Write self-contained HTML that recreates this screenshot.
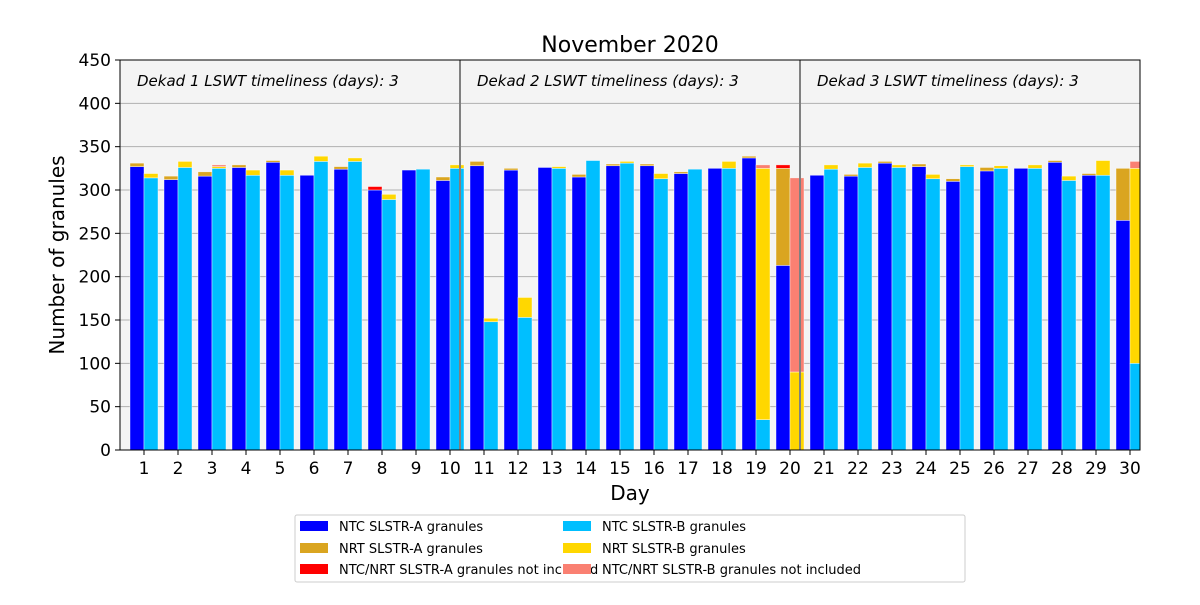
<!DOCTYPE html>
<html><head><meta charset="utf-8"><style>
html,body{margin:0;padding:0;background:#fff;}
svg text{font-family:"DejaVu Sans","Liberation Sans",sans-serif;}
</style></head><body>
<svg id="chart" width="1200" height="600" xmlns="http://www.w3.org/2000/svg">
<rect x="0" y="0" width="1200" height="600" fill="#fff"/>
<rect x="120" y="60" width="1020" height="390" fill="#f4f4f4"/>
<g id="grid"></g>
<g id="bars"></g>
<g id="dekads"></g>
<rect x="120" y="60" width="1020" height="390" fill="none" stroke="#000" stroke-width="1"/>
<g id="axes"></g>
<text x="630" y="52" font-size="22" text-anchor="middle">November 2020</text>
<text x="630" y="500" font-size="20" text-anchor="middle">Day</text>
<text x="0" y="0" font-size="20" text-anchor="middle" transform="translate(64,255) rotate(-90)">Number of granules</text>
<g>
<rect x="295" y="515" width="670" height="67" fill="#fff" stroke="#ccc" rx="2"/>
<rect x="300" y="521" width="28" height="10" fill="#0000ff"/>
<text x="339" y="531" font-size="13">NTC SLSTR-A granules</text>
<rect x="300" y="543" width="28" height="10" fill="#daa520"/>
<text x="339" y="553" font-size="13">NRT SLSTR-A granules</text>
<rect x="300" y="564" width="28" height="10" fill="#ff0000"/>
<text x="339" y="574" font-size="13">NTC/NRT SLSTR-A granules not included</text>
<rect x="563" y="521" width="28" height="10" fill="#00bfff"/>
<text x="602" y="531" font-size="13">NTC SLSTR-B granules</text>
<rect x="563" y="543" width="28" height="10" fill="#ffd700"/>
<text x="602" y="553" font-size="13">NRT SLSTR-B granules</text>
<rect x="563" y="564" width="28" height="10" fill="#fa8072"/>
<text x="602" y="574" font-size="13">NTC/NRT SLSTR-B granules not included</text>
</g>
</svg>
<script>
const days = [1,2,3,4,5,6,7,8,9,10,11,12,13,14,15,16,17,18,19,20,21,22,23,24,25,26,27,28,29,30];
const ntcA = [327,312,316,326,332,317,324,300,323,311,328,323,326,315,328,328,319,325,337,213,317,316,331,327,310,322,325,332,317,265];
const nrtA = [4,4,5,3,2,0,3,0,0,4,5,2,0,3,2,2,2,0,2,112,0,2,2,3,3,4,0,2,2,60];
const niA  = [0,0,0,0,0,0,0,4,0,0,0,0,0,0,0,0,0,0,0,4,0,0,0,0,0,0,0,0,0,0];
const ntcB = [314,326,325,317,317,333,333,289,324,325,148,153,325,334,331,313,324,325,35,0,324,326,326,313,327,325,325,311,317,100];
const nrtB = [5,7,2,6,6,6,4,6,0,4,4,23,2,0,2,6,0,8,290,90,5,5,3,5,2,3,4,5,17,225];
const niB  = [0,0,2,0,0,0,0,0,0,0,0,0,0,0,0,0,0,0,4,224,0,0,0,0,0,0,0,0,0,8];
const yTicks = [0,50,100,150,200,250,300,350,400,450];
const dekadLabels = ["Dekad 1 LSWT timeliness (days): 3","Dekad 2 LSWT timeliness (days): 3","Dekad 3 LSWT timeliness (days): 3"];
const dekadBounds = [10.5,20.5];

const NS="http://www.w3.org/2000/svg";
const X0=120,X1=1140,Y0=450,Y1=60;
function xs(d){return 144+34*(d-1);}
function ys(v){return Y0-(v/450)*(Y0-Y1);}
function mk(tag,attrs,parent){const e=document.createElementNS(NS,tag);for(const k in attrs)e.setAttribute(k,attrs[k]);parent.appendChild(e);return e;}
const grid=document.getElementById('grid'),bars=document.getElementById('bars'),axes=document.getElementById('axes'),dek=document.getElementById('dekads');
yTicks.forEach(t=>{
  const l=mk('line',{x1:X0,x2:X1,y1:ys(t),y2:ys(t),stroke:'#b0b0b0','stroke-width':1},grid);
  
  
  mk('line',{x1:X0-5,x2:X0,y1:ys(t),y2:ys(t),stroke:'#000'},axes);
  const tx=mk('text',{x:X0-9,y:ys(t)+6,'font-size':17,'text-anchor':'end'},axes);
  tx.textContent=t;
  
  
});
function seg(x,bottom,val,color,name){
  if(val<=0)return;
  const r=mk('rect',{x:x,y:ys(bottom+val),width:14,height:ys(bottom)-ys(bottom+val),fill:color,stroke:'#fff','stroke-width':0.6,'stroke-opacity':0.7},bars);
  
  
}
days.forEach((d,i)=>{
  const xc=xs(d);
  seg(xc-14,0,ntcA[i],'#0000ff','bar-ntc-a');
  seg(xc-14,ntcA[i],nrtA[i],'#daa520','bar-nrt-a');
  seg(xc-14,ntcA[i]+nrtA[i],niA[i],'#ff0000','bar-ni-a');
  seg(xc,0,ntcB[i],'#00bfff','bar-ntc-b');
  seg(xc,ntcB[i],nrtB[i],'#ffd700','bar-nrt-b');
  seg(xc,ntcB[i]+nrtB[i],niB[i],'#fa8072','bar-ni-b');
  mk('line',{x1:xc,x2:xc,y1:Y0,y2:Y0+5,stroke:'#000'},axes);
  const tx=mk('text',{x:xc,y:Y0+24,'font-size':17,'text-anchor':'middle'},axes);
  tx.textContent=d;
  
  
});
bars.querySelectorAll('rect').forEach(r=>{});
// clip day 30 overflow
const cp=mk('clipPath',{id:'pc'},document.getElementById('chart'));
mk('rect',{x:X0,y:Y1,width:X1-X0,height:Y0-Y1},cp);
bars.setAttribute('clip-path','url(#pc)');
dekadBounds.forEach(b=>{
  const x=xs(b)-7;
  const l=mk('line',{x1:x,x2:x,y1:Y1,y2:Y0,stroke:'#808080','stroke-width':2},dek);
  
  
});
const starts=[X0,xs(dekadBounds[0])-7,xs(dekadBounds[1])-7];
dekadLabels.forEach((s,i)=>{
  const t=mk('text',{x:starts[i]+17,y:86,'font-size':15,'font-style':'italic'},dek);
  t.textContent=s;
  
  
});
</script>
</body></html>
